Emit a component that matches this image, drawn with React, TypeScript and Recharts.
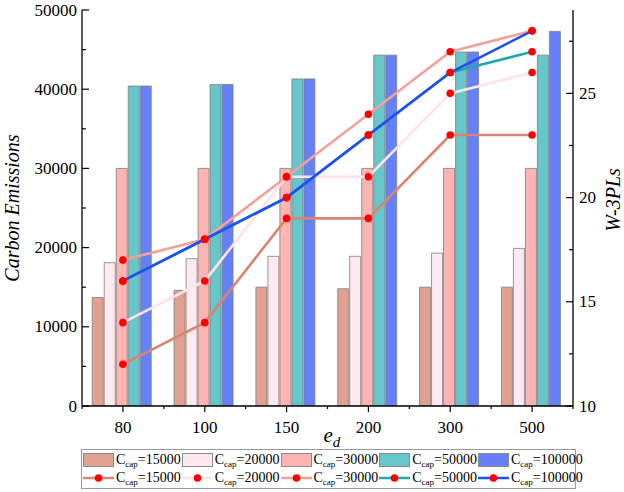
import { Bar, ComposedChart, Label, Line, XAxis, YAxis } from 'recharts';

const FONT = '"Liberation Serif", "Times New Roman", serif';

// e_d categories
const categories = ['80', '100', '150', '200', '300', '500'];
const capLabels = ['15000', '20000', '30000', '50000', '100000'];

// carbon emissions (bars, left axis)
const emissions15000 = [13700, 14600, 15000, 14800, 15000, 15000];
const emissions20000 = [18100, 18600, 18900, 18900, 19300, 19900];
const emissions30000 = [30000, 30000, 30000, 30000, 30000, 30000];
const emissions50000 = [40400, 40600, 41300, 44300, 44700, 44300];
const emissions100000 = [40400, 40600, 41300, 44300, 44700, 47300];

// W-3PLs (lines, right axis)
const w3pl15000 = [12, 14, 19, 19, 23, 23];
const w3pl20000 = [14, 16, 21, 21, 25, 26];
const w3pl30000 = [17, 18, 21, 24, 27, 28];
const w3pl50000 = [16, 18, 20, 23, 26, 27];
const w3pl100000 = [16, 18, 20, 23, 26, 28];

const leftTicks = [0, 5000, 10000, 15000, 20000, 25000, 30000, 35000, 40000, 45000, 50000];
const rightTicks = [10, 12.5, 15, 17.5, 20, 22.5, 25, 27.5];

const barColors = ['#e0a193', '#fde9ef', '#ffb4b4', '#66c6c9', '#6681f7'];
const lineColors = ['#d98473', '#ffe3ea', '#f4a09b', '#20a9a9', '#1f4ff2'];

const emissionSeries = [emissions15000, emissions20000, emissions30000, emissions50000, emissions100000];
const w3plSeries = [w3pl15000, w3pl20000, w3pl30000, w3pl50000, w3pl100000];

const data = categories.map((ed, i) => {
  const row: Record<string, string | number> = { ed };
  capLabels.forEach((cap, k) => {
    row['b' + cap] = emissionSeries[k][i];
    row['l' + cap] = w3plSeries[k][i];
  });
  return row;
});

function LeftTick(props: any) {
  const { x, y, payload } = props;
  const major = payload.value % 10000 === 0;
  return (
    <g>
      <line x1={x} y1={y} x2={x + (major ? 7 : 4)} y2={y} stroke="#000" strokeWidth={1.2} />
      {major && (
        <text x={x - 5} y={y} textAnchor="end" dominantBaseline="central" fontSize={17} fontFamily={FONT} fill="#000">
          {payload.value}
        </text>
      )}
    </g>
  );
}

function RightTick(props: any) {
  const { x, y, payload } = props;
  const major = payload.value % 5 === 0;
  return (
    <g>
      <line x1={x} y1={y} x2={x - (major ? 7 : 4)} y2={y} stroke="#000" strokeWidth={1.2} />
      {major && (
        <text x={x + 6} y={y} textAnchor="start" dominantBaseline="central" fontSize={17} fontFamily={FONT} fill="#000">
          {payload.value}
        </text>
      )}
    </g>
  );
}

function BottomTick(props: any) {
  const { x, y, payload } = props;
  const half = payload.offset || 40.8;
  return (
    <g>
      <line x1={x} y1={y} x2={x} y2={y + 6} stroke="#000" strokeWidth={1.2} />
      <line x1={x + half} y1={y} x2={x + half} y2={y + 3} stroke="#000" strokeWidth={1.2} />
      {payload.index === 0 && <line x1={x - half} y1={y} x2={x - half} y2={y + 3} stroke="#000" strokeWidth={1.2} />}
      <text x={x} y={y + 21} textAnchor="middle" dominantBaseline="central" fontSize={17} fontFamily={FONT} fill="#000">
        {payload.value}
      </text>
    </g>
  );
}

function TopTick(props: any) {
  const { x, y, payload } = props;
  const half = payload.offset || 40.8;
  return (
    <g>
      <line x1={x} y1={y} x2={x} y2={y + 6} stroke="#000" strokeWidth={1.2} />
      <line x1={x + half} y1={y} x2={x + half} y2={y + 3} stroke="#000" strokeWidth={1.2} />
    </g>
  );
}

function LeftTitle(props: any) {
  const { viewBox } = props;
  const cx = viewBox.x + 12;
  const cy = viewBox.y + viewBox.height / 2;
  return (
    <text x={cx} y={cy} transform={`rotate(-90 ${cx} ${cy})`} textAnchor="middle" dominantBaseline="central" fontSize={20} fontStyle="italic" fontFamily={FONT} fill="#000">
      Carbon Emissions
    </text>
  );
}

function RightTitle(props: any) {
  const { viewBox } = props;
  const cx = viewBox.x + 40;
  const cy = viewBox.y + viewBox.height / 2 - 8;
  return (
    <text x={cx} y={cy} transform={`rotate(-90 ${cx} ${cy})`} textAnchor="middle" dominantBaseline="central" fontSize={20} fontStyle="italic" fontFamily={FONT} fill="#000">
      W-3PLs
    </text>
  );
}

function BottomTitle(props: any) {
  const { viewBox } = props;
  const x = viewBox.x + viewBox.width / 2 - 4;
  const y = viewBox.y + 36;
  return (
    <text x={x} y={y} fontSize={21} fontStyle="italic" fontFamily={FONT} fill="#000">
      e
      <tspan fontSize={15} dy={5}>d</tspan>
    </text>
  );
}

function CapText({ cap }: { cap: string }) {
  return (
    <span style={{ fontSize: 14, fontFamily: FONT, whiteSpace: 'nowrap', marginLeft: 2, lineHeight: '14px' }}>
      C<sub style={{ fontSize: 9, verticalAlign: -3, lineHeight: 0 }}>cap</sub>={cap}
    </span>
  );
}

function ChartLegend() {
  return (
    <div
      style={{
        position: 'absolute',
        left: 81,
        top: 449,
        width: 493,
        height: 37,
        border: '1.5px solid #9a9a9a',
        boxSizing: 'content-box',
        paddingTop: 1,
      }}
    >
      <div style={{ display: 'flex', height: 18, alignItems: 'center' }}>
        {capLabels.map((cap, k) => (
          <div key={cap} style={{ width: 98, display: 'flex', alignItems: 'center', paddingLeft: 1 }}>
            <div style={{ width: 29, height: 12, background: barColors[k], border: '1px solid #8a8a8a', flexShrink: 0 }} />
            <CapText cap={cap} />
          </div>
        ))}
      </div>
      <div style={{ display: 'flex', height: 18, alignItems: 'center' }}>
        {capLabels.map((cap, k) => (
          <div key={cap} style={{ width: 98, display: 'flex', alignItems: 'center', paddingLeft: 1 }}>
            <svg width={31} height={10} style={{ flexShrink: 0 }}>
              <line x1={0} y1={5} x2={31} y2={5} stroke={lineColors[k]} strokeWidth={2.5} />
              <circle cx={15.5} cy={5} r={3.8} fill="#ff0000" />
            </svg>
            <CapText cap={cap} />
          </div>
        ))}
      </div>
    </div>
  );
}

export default function App() {
  return (
    <div style={{ position: 'absolute', left: 0, top: 0, width: 624, height: 492, background: '#fff' }}>
      <ComposedChart
        width={624}
        height={492}
        data={data}
        margin={{ top: 10, right: 0, left: 0, bottom: 0 }}
        barCategoryGap="12.5%"
        barGap={1}
        style={{ fontFamily: FONT }}
      >
        <XAxis
          dataKey="ed"
          type="category"
          height={86}
          interval={0}
          tickSize={0}
          tickMargin={0}
          tick={<BottomTick />}
          axisLine={{ stroke: '#000', strokeWidth: 1.3 }}
          tickLine={false}
          label={<BottomTitle />}
        />
        <XAxis
          xAxisId="top"
          dataKey="ed"
          type="category"
          orientation="top"
          height={0}
          interval={0}
          tickSize={0}
          tickMargin={0}
          tick={<TopTick />}
          axisLine={{ stroke: '#000', strokeWidth: 1.3 }}
          tickLine={false}
        />
        <YAxis
          yAxisId="left"
          width={82}
          domain={[0, 50000]}
          ticks={leftTicks}
          interval={0}
          tickSize={0}
          tickMargin={0}
          tick={<LeftTick />}
          axisLine={{ stroke: '#000', strokeWidth: 1.3 }}
          tickLine={false}
          allowDataOverflow
        >
          <Label content={<LeftTitle />} />
        </YAxis>
        <YAxis
          yAxisId="right"
          orientation="right"
          width={51}
          domain={[10, 29]}
          ticks={rightTicks}
          interval={0}
          tickSize={0}
          tickMargin={0}
          tick={<RightTick />}
          axisLine={{ stroke: '#000', strokeWidth: 1.3 }}
          tickLine={false}
          allowDataOverflow
        >
          <Label content={<RightTitle />} />
        </YAxis>
        {capLabels.map((cap, k) => (
          <Bar
            key={'b' + cap}
            yAxisId="left"
            dataKey={'b' + cap}
            fill={barColors[k]}
            stroke="#7d7d7d"
            strokeWidth={0.8}
            isAnimationActive={false}
          />
        ))}
        {capLabels.map((cap, k) => (
          <Line
            key={'l' + cap}
            yAxisId="right"
            type="linear"
            dataKey={'l' + cap}
            stroke={lineColors[k]}
            strokeWidth={2.6}
            dot={{ r: 3.8, fill: '#ff0000', stroke: 'none' }}
            activeDot={false}
            isAnimationActive={false}
          />
        ))}
      </ComposedChart>
      <ChartLegend />
    </div>
  );
}
